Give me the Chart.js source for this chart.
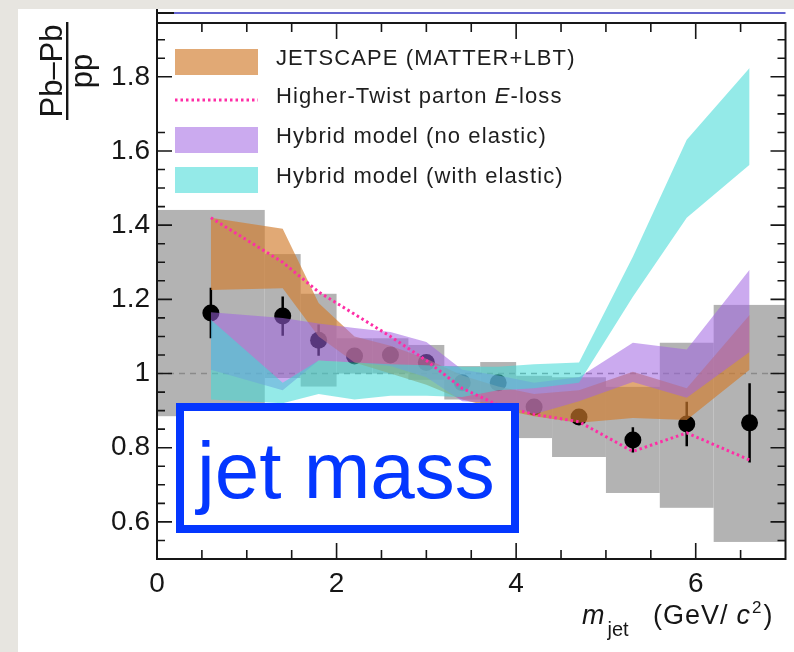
<!DOCTYPE html>
<html>
<head>
<meta charset="utf-8">
<script src="https://cdn.jsdelivr.net/npm/chart.js@4.4.1/dist/chart.umd.min.js"></script>
<style>
  html, body { margin: 0; padding: 0; }
  body {
    width: 794px; height: 652px; overflow: hidden; position: relative;
    background: #e7e5e0;
    font-family: "Liberation Sans", Arial, sans-serif;
  }
  #panel { position: absolute; left: 18px; top: 9px; width: 776px; height: 643px; background: #fff; }
  #ratio { position: absolute; left: 0; top: 0; }
  #tag {
    position: absolute; left: 158px; top: 394px;
    box-sizing: border-box; width: 343px; height: 130px;
    border: 8px solid #0437ff; background: #fff; color: #0437ff;
    font-size: 80px; line-height: 108px; padding: 6px 0 0 13px;
    white-space: nowrap;
  }
</style>
</head>
<body>
<div id="panel">
  <canvas id="ratio" width="776" height="643"></canvas>
  <div id="tag">jet mass</div>
</div>
<script>
// jet mass bins (GeV/c^2) and the measured Pb-Pb / pp ratio
const binEdges = [0, 1.2, 1.6, 2.0, 2.4, 2.8, 3.2, 3.6, 4.0, 4.4, 5.0, 5.6, 6.2, 7.0];
const mjet = [0.6, 1.4, 1.8, 2.2, 2.6, 3.0, 3.4, 3.8, 4.2, 4.7, 5.3, 5.9, 6.6];
const ratio = [1.163, 1.155, 1.09, 1.047, 1.05, 1.03, 0.975, 0.975, 0.91, 0.883, 0.821, 0.864, 0.867];
const statErr = [0.068, 0.053, 0.042, 0.02, 0.02, 0.02, 0.015, 0.02, 0.02, 0.015, 0.034, 0.06, 0.107];
const systLow = [0.885, 0.988, 0.965, 1.0, 1.0, 0.983, 0.93, 0.919, 0.826, 0.775, 0.678, 0.638, 0.546];
const systHigh = [1.441, 1.322, 1.215, 1.095, 1.095, 1.077, 1.02, 1.031, 0.994, 0.99, 0.964, 1.083, 1.185];

// model bands
const jetscapeHigh = [1.42, 1.39, 1.19, 1.10, 1.075, 1.04, 0.995, 0.965, 0.945, 0.955, 1.005, 0.96, 1.158];
const jetscapeLow = [1.225, 1.23, 1.10, 1.03, 1.0, 0.97, 0.93, 0.905, 0.885, 0.867, 0.88, 0.875, 1.01];
const hybridHigh = [1.165, 1.15, 1.135, 1.123, 1.112, 1.085, 1.01, 0.995, 0.975, 0.99, 1.083, 1.065, 1.28];
const hybridLow = [1.01, 0.955, 1.035, 1.03, 1.02, 0.99, 0.925, 0.92, 0.89, 0.925, 0.977, 0.935, 1.058];
const elasticHigh = [1.145, 0.975, 1.035, 1.03, 1.025, 1.022, 1.018, 1.018, 1.025, 1.03, 1.315, 1.63, 1.824];
const elasticLow = [0.93, 0.92, 0.945, 0.93, 0.94, 0.94, 0.937, 0.955, 0.96, 0.975, 1.207, 1.42, 1.563];
const higherTwist = [1.42, 1.30, 1.22, 1.16, 1.10, 1.035, 0.96, 0.915, 0.89, 0.87, 0.79, 0.84, 0.767];

const yLabels = [0.6, 0.8, 1, 1.2, 1.4, 1.6, 1.8];
const xLabels = [0, 2, 4, 6];

const FONT = '"Liberation Sans", Arial, sans-serif';
const INK = '#161616';
const GREY_BOX = '#b3b3b3';
const ORANGE = 'rgba(210, 125, 45, 0.66)';
const PURPLE = 'rgba(160, 100, 225, 0.55)';
const CYAN = 'rgba(65, 218, 214, 0.56)';
const PINK = '#ff2da6';

const legendEntries = [
  { kind: 'band', color: ORANGE, text: [['JETSCAPE (MATTER+LBT)', '']] },
  { kind: 'line', color: PINK, text: [['Higher-Twist parton ', ''], ['E', 'italic '], ['-loss', '']] },
  { kind: 'band', color: PURPLE, text: [['Hybrid model (no elastic)', '']] },
  { kind: 'band', color: CYAN, text: [['Hybrid model (with elastic)', '']] }
];

function pts(ys) {
  return mjet.map((x, i) => ({ x, y: ys[i] }));
}

function band(label, high, low, color, order) {
  return [
    { label, data: pts(high), fill: '+1', backgroundColor: color, borderColor: 'transparent',
      borderWidth: 0, pointRadius: 0, order },
    { label: label + ' (low)', data: pts(low), fill: false, borderColor: 'transparent',
      borderWidth: 0, pointRadius: 0, order }
  ];
}

// systematic boxes and statistical bars sit below every dataset
const boxes = {
  id: 'boxes',
  beforeDatasetsDraw(chart) {
    const { ctx, chartArea: a, scales: { x, y } } = chart;
    ctx.save();
    ctx.beginPath();
    ctx.rect(a.left, a.top, a.right - a.left, a.bottom - a.top);
    ctx.clip();
    ctx.fillStyle = GREY_BOX;
    for (let i = 0; i < mjet.length; i++) {
      const x0 = x.getPixelForValue(binEdges[i]);
      const x1 = x.getPixelForValue(binEdges[i + 1]);
      const y0 = y.getPixelForValue(systHigh[i]);
      const y1 = y.getPixelForValue(systLow[i]);
      ctx.fillRect(x0, y0, x1 - x0, y1 - y0);
    }
    ctx.strokeStyle = '#000';
    ctx.lineWidth = 2.5;
    ctx.beginPath();
    for (let i = 0; i < mjet.length; i++) {
      const px = x.getPixelForValue(mjet[i]);
      ctx.moveTo(px, y.getPixelForValue(ratio[i] + statErr[i]));
      ctx.lineTo(px, y.getPixelForValue(ratio[i] - statErr[i]));
    }
    ctx.stroke();
    ctx.restore();
  }
};

function drawRuns(ctx, runs, x, y, size) {
  for (const [txt, style] of runs) {
    ctx.font = style + size + 'px ' + FONT;
    ctx.fillText(txt, x, y);
    x += ctx.measureText(txt).width;
  }
}

const decor = {
  id: 'decor',
  afterDraw(chart) {
    const { ctx, chartArea: a, scales: { x, y } } = chart;
    ctx.save();

    // frame, left edge runs on into the panel above
    ctx.strokeStyle = INK;
    ctx.lineWidth = 2;
    ctx.strokeRect(a.left, a.top, a.right - a.left, a.bottom - a.top);
    ctx.beginPath();
    ctx.moveTo(a.left, 0);
    ctx.lineTo(a.left, a.top);
    ctx.stroke();
    ctx.beginPath();
    ctx.moveTo(a.left, a.top - 10);
    ctx.lineTo(a.left + 17, a.top - 10);
    ctx.stroke();
    ctx.strokeStyle = '#6464cf';
    ctx.beginPath();
    ctx.moveTo(a.left + 17, a.top - 10);
    ctx.lineTo(a.right, a.top - 10);
    ctx.stroke();

    // inward ticks on all four sides
    ctx.strokeStyle = INK;
    ctx.lineWidth = 1.6;
    ctx.beginPath();
    for (let k = 11; k <= 38; k++) {
      const py = y.getPixelForValue(k * 0.05);
      const len = k % 4 === 0 ? 15 : 8;
      ctx.moveTo(a.left, py); ctx.lineTo(a.left + len, py);
      ctx.moveTo(a.right, py); ctx.lineTo(a.right - len, py);
    }
    for (let k = 1; k <= 13; k++) {
      const px = x.getPixelForValue(k * 0.5);
      const len = k % 4 === 0 ? 16 : 9;
      ctx.moveTo(px, a.bottom); ctx.lineTo(px, a.bottom - len);
      ctx.moveTo(px, a.top); ctx.lineTo(px, a.top + len);
    }
    ctx.stroke();

    // legend
    const sx = a.left + 18, sw = 83, tx = a.left + 119;
    const rows = [53, 91, 131, 171];
    ctx.fillStyle = '#fff';
    ctx.fillRect(a.left + 1, 76, 420, 37);
    legendEntries.forEach((e, i) => {
      const cy = rows[i];
      if (e.kind === 'band') {
        ctx.fillStyle = e.color;
        ctx.fillRect(sx, cy - 13, sw, 26);
      } else {
        ctx.strokeStyle = e.color;
        ctx.lineWidth = 3;
        ctx.setLineDash([2.5, 3]);
        ctx.beginPath();
        ctx.moveTo(sx, cy);
        ctx.lineTo(sx + sw, cy);
        ctx.stroke();
        ctx.setLineDash([]);
      }
      ctx.fillStyle = '#1e1e1e';
      ctx.textBaseline = 'middle';
      ctx.textAlign = 'left';
      ctx.letterSpacing = '1.1px';
      drawRuns(ctx, e.text, tx, cy - 3, 22);
      ctx.letterSpacing = '0px';
    });

    // y title: Pb-Pb over pp, turned on its side
    ctx.fillStyle = INK;
    ctx.textAlign = 'center';
    ctx.textBaseline = 'alphabetic';
    ctx.font = '31px ' + FONT;
    ctx.save();
    ctx.translate(44, 62);
    ctx.rotate(-Math.PI / 2);
    ctx.fillText('Pb\u2013Pb', 0, 0);
    ctx.restore();
    ctx.save();
    ctx.translate(74, 62);
    ctx.rotate(-Math.PI / 2);
    ctx.fillText('pp', 0, 0);
    ctx.restore();
    ctx.fillRect(48, 13, 2.4, 98);

    // x title: m_jet (GeV/c^2)
    ctx.textAlign = 'left';
    const base = a.bottom + 65;
    let cx = 564;
    ctx.font = 'italic 27px ' + FONT;
    ctx.fillText('m', cx, base);
    cx += ctx.measureText('m').width + 3;
    ctx.font = '20px ' + FONT;
    ctx.fillText('jet', cx, base + 12);
    cx = 635;
    ctx.font = '27px ' + FONT;
    ctx.letterSpacing = '1px';
    ctx.fillText('(GeV/', cx, base);
    cx += ctx.measureText('(GeV/').width + 8;
    ctx.letterSpacing = '0px';
    ctx.font = 'italic 27px ' + FONT;
    ctx.fillText('c', cx, base);
    cx += ctx.measureText('c').width + 2;
    ctx.font = '17px ' + FONT;
    ctx.fillText('2', cx, base - 11);
    cx += ctx.measureText('2').width + 2;
    ctx.font = '27px ' + FONT;
    ctx.fillText(')', cx, base);

    ctx.restore();
  }
};

new Chart(document.getElementById('ratio'), {
  type: 'line',
  data: {
    datasets: [
      { label: 'unity', data: [{ x: 0, y: 1 }, { x: 7, y: 1 }], borderColor: '#8a8a8a',
        borderWidth: 1.5, borderDash: [6, 5], pointRadius: 0, order: 7 },
      { label: 'ALICE', data: pts(ratio), showLine: false, pointRadius: 8.5,
        pointBackgroundColor: '#000', pointBorderWidth: 0, order: 6 },
      ...band('JETSCAPE (MATTER+LBT)', jetscapeHigh, jetscapeLow, ORANGE, 5),
      ...band('Hybrid model (no elastic)', hybridHigh, hybridLow, PURPLE, 4),
      ...band('Hybrid model (with elastic)', elasticHigh, elasticLow, CYAN, 3),
      { label: 'Higher-Twist parton E-loss', data: pts(higherTwist), borderColor: PINK,
        borderWidth: 3, borderDash: [2.5, 3], pointRadius: 0, order: 1 }
    ]
  },
  options: {
    responsive: false,
    animation: false,
    devicePixelRatio: 1,
    layout: { padding: { top: 14, right: 6, left: 0, bottom: 0 } },
    elements: { line: { tension: 0 } },
    plugins: { legend: { display: false }, tooltip: { enabled: false } },
    scales: {
      x: {
        type: 'linear', min: 0, max: 7,
        grid: { display: false, drawTicks: false },
        border: { display: false },
        afterBuildTicks: s => { s.ticks = xLabels.map(v => ({ value: v })); },
        afterFit: s => { s.height = 93; s.paddingLeft = 0; s.paddingRight = 0; },
        ticks: { autoSkip: false, maxRotation: 0, padding: 8, color: INK,
          font: { family: FONT, size: 28 }, callback: v => String(v) }
      },
      y: {
        type: 'linear', min: 0.5, max: 1.945,
        grid: { display: false, drawTicks: false },
        border: { display: false },
        afterBuildTicks: s => { s.ticks = yLabels.map(v => ({ value: v })); },
        afterFit: s => { s.width = 139; s.paddingTop = 0; s.paddingBottom = 0; },
        ticks: { padding: 7, color: INK, font: { family: FONT, size: 28 },
          callback: v => String(Math.round(v * 10) / 10) }
      }
    }
  },
  plugins: [boxes, decor]
});
</script>
</body>
</html>
